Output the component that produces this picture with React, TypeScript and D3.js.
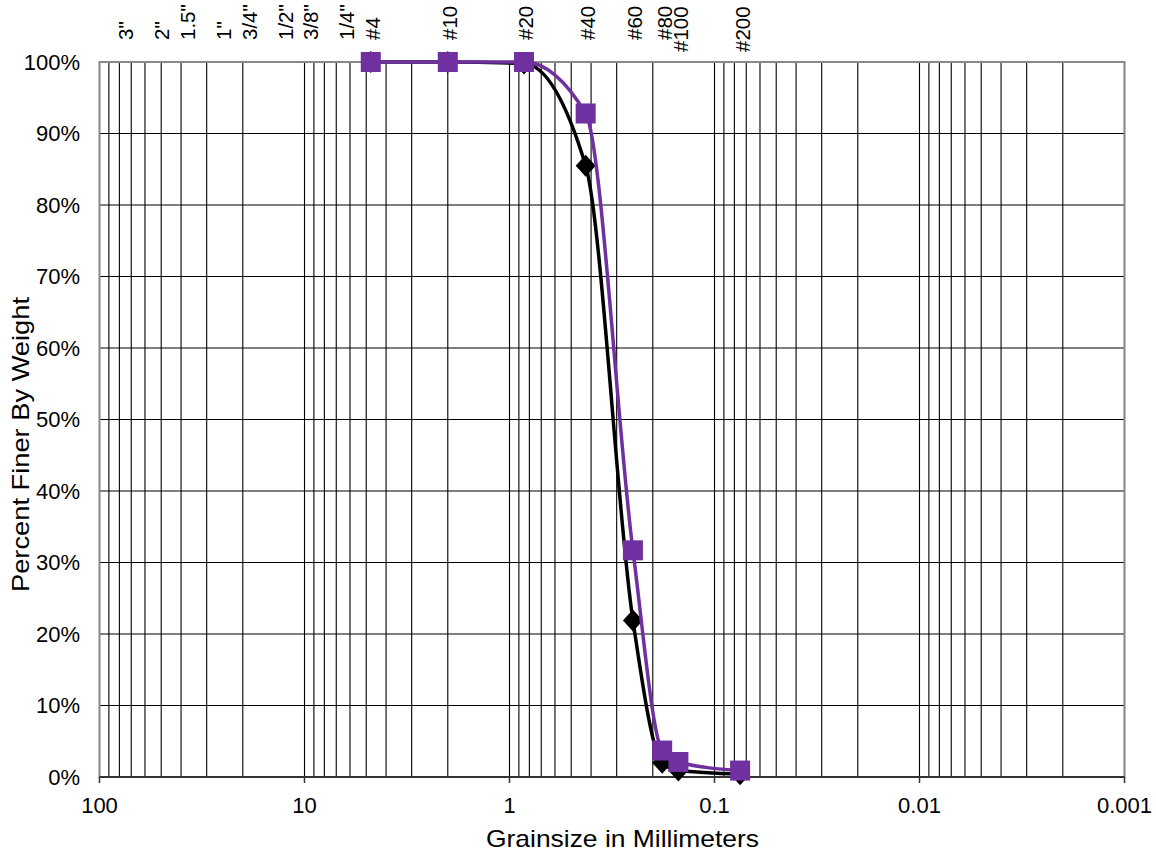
import * as d3 from "d3";

// sieve openings shown along the top of the chart (mm)
const sieveLabels = ['3"', '2"', '1.5"', '1"', '3/4"', '1/2"', '3/8"', '1/4"', "#4", "#10", "#20", "#40", "#60", "#80", "#100", "#200"];
const sieveSizes = [76.2, 50.8, 38.1, 25.4, 19.05, 12.7, 9.525, 6.35, 4.75, 2.0, 0.85, 0.425, 0.25, 0.18, 0.15, 0.075];

// sieves used for the two gradation tests
const testSizes = [4.75, 2.0, 0.85, 0.425, 0.25, 0.18, 0.15, 0.075];
const sampleBlack = [100, 100, 99.8, 85.5, 21.9, 2.0, 0.9, 0.4];
const samplePurple = [100, 100, 100, 92.8, 31.7, 3.7, 2.1, 0.9];

const xTicks = [100, 10, 1, 0.1, 0.01, 0.001];
const yTicks = [0, 10, 20, 30, 40, 50, 60, 70, 80, 90, 100];

const W = 1156;
const H = 857;
const plot = { left: 99.5, right: 1124.5, top: 62, bottom: 777 };
const font = "'Liberation Sans', Arial, Helvetica, sans-serif";

export default function App() {
  const x = d3.scaleLog().domain([100, 0.001]).range([plot.left, plot.right]);
  const y = d3.scaleLinear().domain([0, 100]).range([plot.bottom, plot.top]);

  // minor log gridlines 1..9 in each decade
  const grid: number[] = [];
  for (let k = -3; k < 2; k++) {
    for (let m = 1; m < 10; m++) grid.push(m * Math.pow(10, k));
  }

  const line = d3
    .line<[number, number]>()
    .x((d) => x(d[0]))
    .y((d) => y(d[1]))
    .curve(d3.curveMonotoneX);

  const black = testSizes.map((s, i) => [s, sampleBlack[i]] as [number, number]);
  const purple = testSizes.map((s, i) => [s, samplePurple[i]] as [number, number]);
  const diamond = "M0,-11L10,0L0,11L-10,0Z";

  // a couple of labels sit a little lower so they don't collide
  const lowered = new Set(["#100", "#200"]);

  return (
    <svg
      width={W}
      height={H}
      style={{ position: "absolute", left: 0, top: 0, background: "#fff" }}
      fontFamily={font}
    >
      {grid.map((g, i) => (
        <line key={"vg" + i} x1={x(g)} x2={x(g)} y1={plot.top} y2={plot.bottom} stroke="#000" strokeWidth={1.1} />
      ))}
      {yTicks.map((t) => (
        <line key={"hg" + t} x1={plot.left} x2={plot.right} y1={y(t)} y2={y(t)} stroke="#000" strokeWidth={1.1} />
      ))}

      <rect
        x={plot.left}
        y={plot.top}
        width={plot.right - plot.left}
        height={plot.bottom - plot.top}
        fill="none"
        stroke="#888"
        strokeWidth={2}
      />
      <line x1={plot.left} x2={plot.right} y1={plot.bottom} y2={plot.bottom} stroke="#333" strokeWidth={2} />
      {xTicks.map((t) => (
        <line key={"xt" + t} x1={x(t)} x2={x(t)} y1={plot.bottom} y2={plot.bottom + 6} stroke="#333" strokeWidth={1.5} />
      ))}

      {yTicks.map((t) => (
        <text key={"yl" + t} x={80} y={y(t)} dy="0.36em" textAnchor="end" fontSize={22} fill="#000">
          {t + "%"}
        </text>
      ))}
      {xTicks.map((t) => (
        <text key={"xl" + t} x={x(t)} y={813} textAnchor="middle" fontSize={22} fill="#000">
          {String(t)}
        </text>
      ))}

      {sieveLabels.map((lab, i) => (
        <text
          key={"sv" + lab}
          transform={`translate(${x(sieveSizes[i]) + 2},${lowered.has(lab) ? 52 : 40}) rotate(-90)`}
          dy="0.36em"
          textAnchor="start"
          fontSize={20.5}
          fill="#000"
        >
          {lab}
        </text>
      ))}

      <text x={486} y={847} fontSize={24} fill="#000" textLength={273} lengthAdjust="spacingAndGlyphs">
        Grainsize in Millimeters
      </text>
      <text
        transform="translate(20,592) rotate(-90)"
        dy="0.36em"
        fontSize={24}
        fill="#000"
        textLength={295}
        lengthAdjust="spacingAndGlyphs"
      >
        Percent Finer By Weight
      </text>

      <path d={line(black) ?? ""} fill="none" stroke="#000" strokeWidth={3.5} />
      {black.map((d, i) => (
        <path key={"bk" + i} d={diamond} transform={`translate(${x(d[0])},${y(d[1])})`} fill="#000" />
      ))}

      <path d={line(purple) ?? ""} fill="none" stroke="#7030A0" strokeWidth={3.5} />
      {purple.map((d, i) => (
        <rect key={"pp" + i} x={x(d[0]) - 10} y={y(d[1]) - 10} width={20} height={20} fill="#7030A0" />
      ))}
    </svg>
  );
}
